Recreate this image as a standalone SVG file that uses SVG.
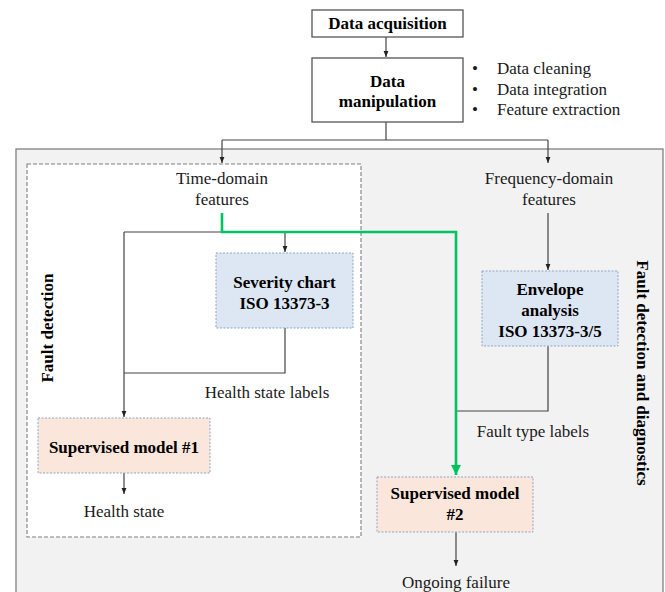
<svg xmlns="http://www.w3.org/2000/svg" width="665" height="592" viewBox="0 0 665 592">
<defs>
<style>
.b{font-family:"Liberation Serif","Times New Roman",serif;font-weight:bold;font-size:17px;fill:#000;text-anchor:middle}
.r{font-family:"Liberation Serif","Times New Roman",serif;font-size:17px;fill:#1a1a1a;text-anchor:middle}
.l{fill:none;stroke:#444;stroke-width:1.2}
.g{fill:none;stroke:#00c462;stroke-width:2.6}
.wb{fill:#fff;stroke:#555;stroke-width:1.3}
.blue{fill:#dde6f3;stroke:#8fa5c8;stroke-width:1;stroke-dasharray:2 1.5}
.peach{fill:#fbe6dc;stroke:#8fa5c8;stroke-width:1;stroke-dasharray:2 1.5}
</style>
<marker id="a" viewBox="0 0 10 10" refX="10" refY="5" markerWidth="5" markerHeight="5" orient="auto"><path d="M0,1 L10,5 L0,9 z" fill="#222"/></marker>
<marker id="ag" viewBox="0 0 10 10" refX="10" refY="5" markerWidth="4" markerHeight="4" orient="auto"><path d="M0,0 L10,5 L0,10 z" fill="#00c462"/></marker>
</defs>
<rect x="16" y="149" width="647" height="460" fill="#f2f2f2" stroke="#808080" stroke-width="1.3"/>
<rect x="27" y="164" width="334" height="373" fill="#fff" stroke="#808080" stroke-width="1.1" stroke-dasharray="4 2"/>
<g id="connectors">
<path class="l" d="M386,37 V57" marker-end="url(#a)"/>
<path class="l" d="M386,122 V140 M222,140 H548"/>
<path class="l" d="M222,140 V163" marker-end="url(#a)"/>
<path class="l" d="M548,140 V163" marker-end="url(#a)"/>
<path class="l" d="M124,232 H285"/>
<path class="l" d="M285,232 V252" marker-end="url(#a)"/>
<path class="l" d="M285,328 V373 H124"/>
<path class="l" d="M124,232 V417" marker-end="url(#a)"/>
<path class="l" d="M124,473 V494" marker-end="url(#a)"/>
<path class="l" d="M548,213 V270" marker-end="url(#a)"/>
<path class="l" d="M548,346 V411 H456"/>
<path class="l" d="M456,532 V566" marker-end="url(#a)"/>
<path class="g" d="M222,213 V232 H456 V475" marker-end="url(#ag)"/>
</g>
<g id="data-acquisition">
<rect class="wb" x="312" y="10" width="151" height="27"/>
<text class="b" x="387.5" y="29">Data acquisition</text>
</g>
<g id="data-manipulation">
<rect class="wb" x="312" y="58" width="151" height="64"/>
<text class="b" x="387.5" y="87">Data</text>
<text class="b" x="387.5" y="107">manipulation</text>
</g>
<g id="manipulation-steps" font-family="Liberation Serif, serif" font-size="17" fill="#1a1a1a">
<text x="472" y="74">•</text><text x="497" y="74">Data cleaning</text>
<text x="472" y="95">•</text><text x="497" y="95">Data integration</text>
<text x="472" y="115">•</text><text x="497" y="115">Feature extraction</text>
</g>
<g id="time-domain">
<text class="r" x="222" y="184">Time-domain</text>
<text class="r" x="222" y="205">features</text>
</g>
<g id="frequency-domain">
<text class="r" x="549" y="184">Frequency-domain</text>
<text class="r" x="549" y="205">features</text>
</g>
<g id="severity-chart">
<rect class="blue" x="216" y="253" width="137" height="75"/>
<text class="b" x="284.5" y="288">Severity chart</text>
<text class="b" x="284.5" y="309">ISO 13373-3</text>
</g>
<g id="envelope-analysis">
<rect class="blue" x="482" y="271" width="136" height="75"/>
<text class="b" x="550" y="295">Envelope</text>
<text class="b" x="550" y="316">analysis</text>
<text class="b" x="550" y="337">ISO 13373-3/5</text>
</g>
<g id="health-state-labels"><text class="r" x="267" y="398">Health state labels</text></g>
<g id="fault-type-labels"><text class="r" x="533" y="437">Fault type labels</text></g>
<g id="supervised-model-1">
<rect class="peach" x="38" y="418" width="172" height="55"/>
<text class="b" x="124" y="453">Supervised model #1</text>
</g>
<g id="health-state"><text class="r" x="124" y="517">Health state</text></g>
<g id="supervised-model-2">
<rect class="peach" x="377" y="477" width="156" height="55"/>
<text class="b" x="455" y="499">Supervised model</text>
<text class="b" x="455" y="520">#2</text>
</g>
<g id="ongoing-failure"><text class="r" x="456" y="588">Ongoing failure</text></g>
<g id="fault-detection-label"><text class="b" font-size="17.5" transform="translate(53,328) rotate(-90)">Fault detection</text></g>
<g id="fault-diagnostics-label"><text class="b" transform="translate(637,373) rotate(90)">Fault detection and diagnostics</text></g>
</svg>
